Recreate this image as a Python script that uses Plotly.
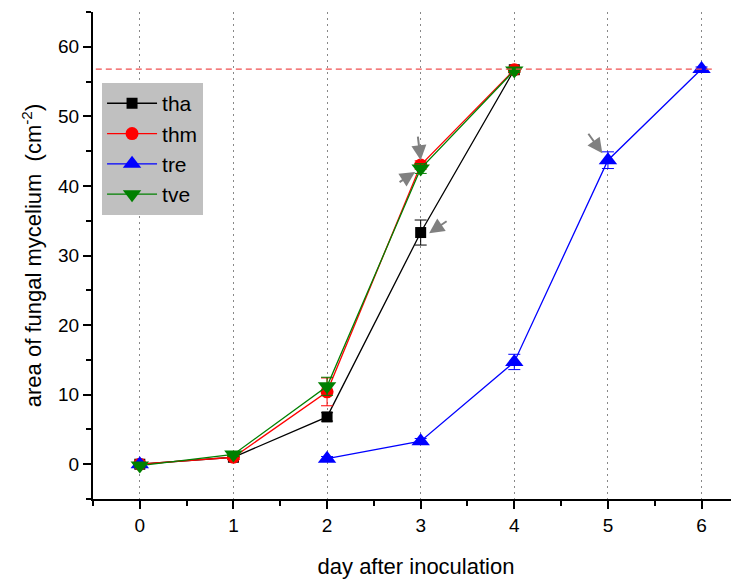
import plotly.graph_objects as go

days = [0, 1, 2, 3, 4, 5, 6]
tha = [0.0, 1.0, 6.8, 33.3, 56.7, None, None]
tha_err = [0.2, 0.3, 0.6, 1.8, 0.3, 0, 0]
thm = [0.0, 1.0, 10.4, 43.0, 56.7, None, None]
thm_err = [0.2, 0.3, 2.0, 0.6, 0.3, 0, 0]
tre = [0.0, None, 0.8, 3.3, 14.7, 43.7, 56.8]
tre_err = [0.2, 0, 0.3, 0.4, 1.1, 1.2, 0.3]
tve = [-0.2, 1.4, 11.2, 42.5, 56.6, None, None]
tve_err = [0.2, 0.3, 1.3, 0.7, 0.3, 0, 0]
max_area = 56.8

series = [
    ("tha", tha, tha_err, "black", "square", 11),
    ("thm", thm, thm_err, "red", "circle", 13),
    ("tre", tre, tre_err, "blue", "triangle-up", 16),
    ("tve", tve, tve_err, "green", "triangle-down", 16),
]

fig = go.Figure()
for name, ys, err, col, sym, sz in series:
    fig.add_trace(go.Scatter(
        x=days, y=ys, name=name, mode="lines+markers",
        line=dict(color=col, width=1.3),
        marker=dict(color=col, symbol=sym, size=sz, line=dict(width=0)),
        error_y=dict(type="data", array=err, color=col, thickness=1, width=6),
        connectgaps=False,
    ))

fig.add_shape(type="line", x0=-0.47, x1=6.15, y0=max_area, y1=max_area,
              xref="x", yref="y", line=dict(color="#f05050", width=1.3, dash="6px,4px"))

arrows = [
    (3.0, 43.7, -3, -25),
    (2.94, 42.0, -17, 11),
    (3.09, 33.2, 19, -13),
    (4.94, 44.7, -15, -21),
]
for x, y, ax, ay in arrows:
    fig.add_annotation(x=x, y=y, ax=ax, ay=ay, xref="x", yref="y",
                       showarrow=True, arrowhead=2, arrowsize=1.5, arrowwidth=2,
                       arrowcolor="#808080", text="", standoff=0)

# page body has an 8px margin, so the figure is sized to fit the remaining window
fig.update_layout(
    width=731, height=572,
    margin=dict(l=85, r=0, t=4, b=81),
    paper_bgcolor="white", plot_bgcolor="white",
    font=dict(family="Liberation Sans, Arial, sans-serif", color="black"),
    showlegend=True,
    legend=dict(x=0.014, y=0.854, xanchor="left", yanchor="top",
                bgcolor="#c0c0c0", font=dict(size=21),
                itemwidth=50, tracegroupgap=0),
    xaxis=dict(range=[-0.5, 6.4], tickmode="array", tickvals=days,
               automargin=False,
               showgrid=True, gridcolor="#888888", griddash="2px,4px", gridwidth=1,
               showline=True, linecolor="black", linewidth=2,
               ticks="outside", ticklen=8, tickwidth=2, tickcolor="black",
               minor=dict(dtick=0.5, tick0=0, ticks="outside", ticklen=5,
                          tickwidth=2, tickcolor="black", showgrid=False),
               tickfont=dict(size=19), zeroline=False,
               title=dict(text="day after inoculation", font=dict(size=22), standoff=24)),
    yaxis=dict(range=[-5, 65], tickmode="array", tickvals=[0, 10, 20, 30, 40, 50, 60],
               automargin=False,
               showgrid=False, showline=True, linecolor="black", linewidth=2,
               ticks="outside", ticklen=8, tickwidth=2, tickcolor="black",
               minor=dict(dtick=5, tick0=0, ticks="outside", ticklen=5,
                          tickwidth=2, tickcolor="black", showgrid=False),
               tickfont=dict(size=19), zeroline=False,
               title=dict(text="area of fungal mycelium  (cm<sup>-2</sup>)",
                          font=dict(size=22), standoff=10)),
)

fig.write_html("out.html")
